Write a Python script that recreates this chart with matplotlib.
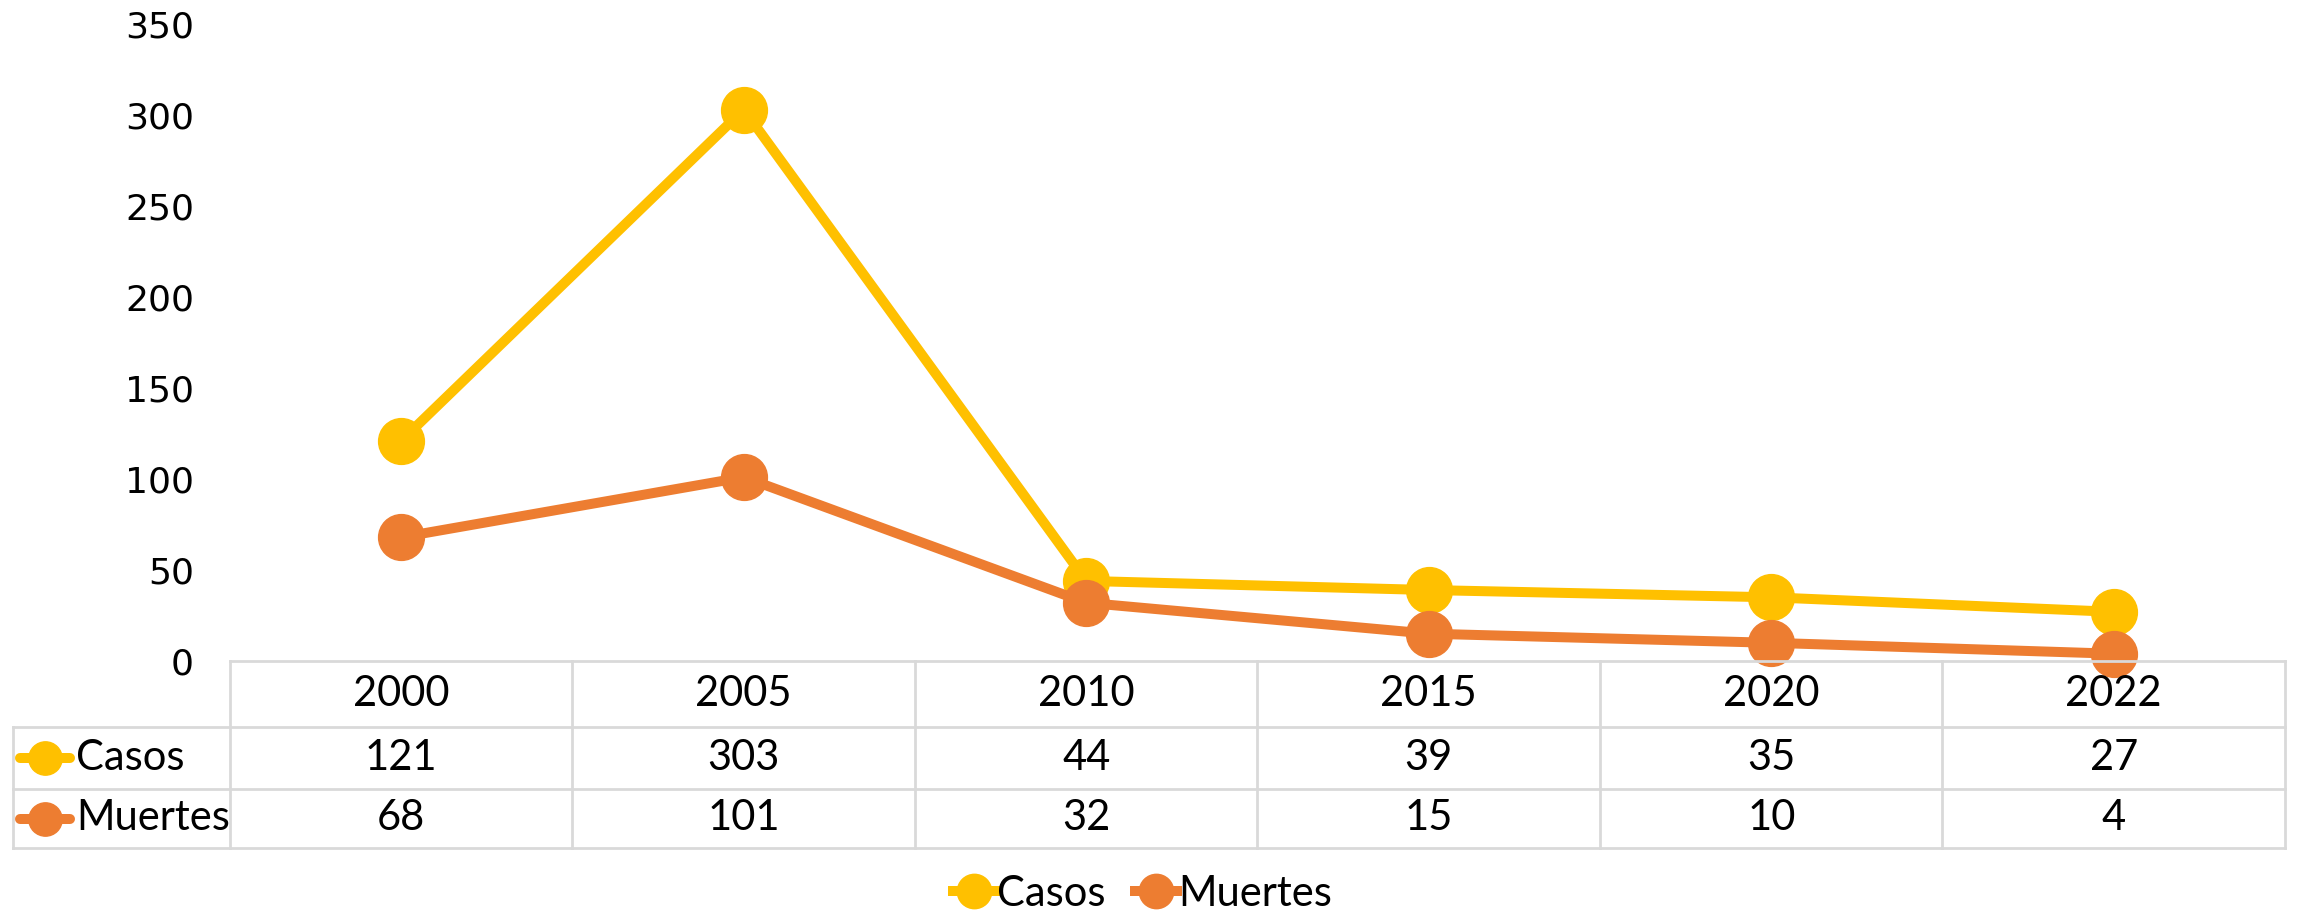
import matplotlib
matplotlib.use("Agg")
import matplotlib.pyplot as plt
from matplotlib.lines import Line2D
from matplotlib.transforms import blended_transform_factory
from matplotlib import font_manager

years = ["2000", "2005", "2010", "2015", "2020", "2022"]
casos = [121, 303, 44, 39, 35, 27]
muertes = [68, 101, 32, 15, 10, 4]
series_names = ["Casos", "Muertes"]
colors = ["#FFC000", "#ED7D31"]
yticks = [0, 50, 100, 150, 200, 250, 300, 350]

W, H = 2297, 914
fig = plt.figure(figsize=(W / 100, H / 100), dpi=100)

avail = {f.name for f in font_manager.fontManager.ttflist}
tfont = [f for f in ["Liberation Sans Narrow", "Lato", "DejaVu Sans"] if f in avail]

def fx(px):
    return px / W

def fy(py):
    return 1 - py / H

x_left, x_right = 230, 2285
y_top, y_zero = 24, 661
ax = fig.add_axes([fx(x_left), fy(y_zero), fx(x_right) - fx(x_left), (y_zero - y_top) / H])
ax.set_xlim(-0.5, len(years) - 0.5)
ax.set_ylim(0, 350)
for s in ax.spines.values():
    s.set_visible(False)
ax.set_xticks([])
ax.set_yticks(yticks)
ax.set_yticklabels([str(v) for v in yticks], fontsize=26, family="DejaVu Sans")
ax.tick_params(axis="y", length=0, pad=26)

xs = list(range(len(years)))
lines = []
for vals, c, name in zip([casos, muertes], colors, series_names):
    ln, = ax.plot(xs, vals, color=c, lw=7.2, marker="o", markersize=33,
                  markerfacecolor=c, markeredgecolor=c, label=name, clip_on=False,
                  solid_joinstyle="round")
    lines.append(ln)

# data table
grid_c = "#D9D9D9"
glw = 2
bt = blended_transform_factory(ax.transData, fig.transFigure)
row_y = [661, 727, 789, 848]
fig.add_artist(Line2D([fx(x_left), fx(x_right)], [fy(row_y[0])] * 2, color=grid_c, lw=glw))
for yy in row_y[1:]:
    fig.add_artist(Line2D([fx(13), fx(x_right)], [fy(yy)] * 2, color=grid_c, lw=glw))
fig.add_artist(Line2D([fx(13), fx(13)], [fy(row_y[1]), fy(row_y[3])], color=grid_c, lw=glw))
for i in range(len(years) + 1):
    xv = i - 0.5
    ax.add_artist(Line2D([xv, xv], [fy(row_y[0]), fy(row_y[3])], color=grid_c, lw=glw,
                         transform=bt, clip_on=False))

fs = 30
for i, yr in enumerate(years):
    ax.text(i, fy((row_y[0] + row_y[1]) / 2), yr, transform=bt, ha="center", va="center",
            fontsize=fs, family=tfont)
for r, (vals, c, name) in enumerate(zip([casos, muertes], colors, series_names)):
    yc = fy((row_y[r + 1] + row_y[r + 2]) / 2)
    for i, v in enumerate(vals):
        ax.text(i, yc, str(v), transform=bt, ha="center", va="center", fontsize=fs, family=tfont)
    fig.add_artist(Line2D([fx(20), fx(70)], [yc, yc], color=c, lw=7.2, solid_capstyle="round"))
    fig.add_artist(Line2D([fx(45)], [yc], color=c, marker="o", markersize=24, markeredgecolor=c, lw=0))
    fig.text(fx(76), yc, name, ha="left", va="center", fontsize=fs, family=tfont)

leg = fig.legend(handles=lines, labels=series_names, loc="center", bbox_to_anchor=(fx(1143), fy(894)),
                 ncol=2, frameon=False, prop={"family": tfont, "size": fs}, handlelength=1.0,
                 handletextpad=0.05, columnspacing=0.7, markerscale=0.75)

fig.savefig("out.png", dpi=100)
